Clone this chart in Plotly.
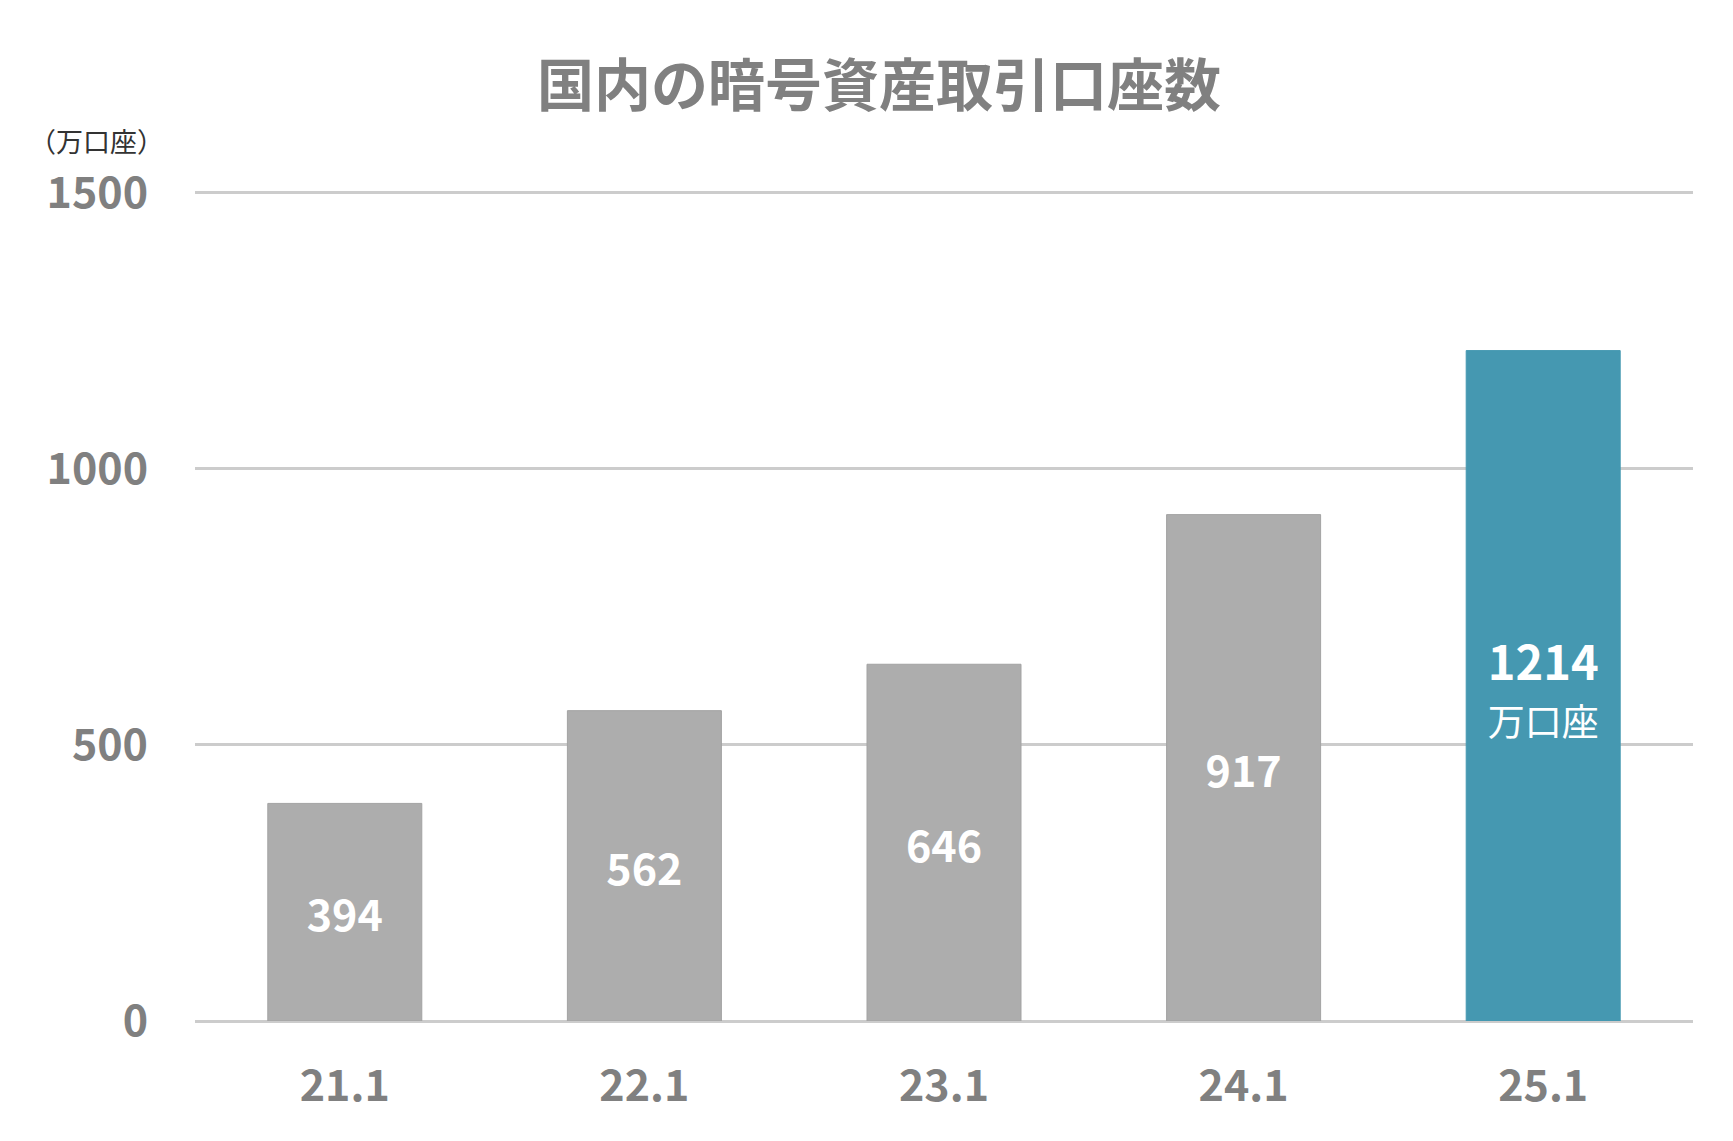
import plotly.graph_objects as go

categories = ["21.1", "22.1", "23.1", "24.1", "25.1"]
values = [394, 562, 646, 917, 1214]
bar_colors = ["#adadad", "#adadad", "#adadad", "#adadad", "#4598b1"]
line_colors = ["#a3a3a3", "#a3a3a3", "#a3a3a3", "#a3a3a3", "#4598b1"]
unit = "万口座"
y_ticks = [0, 500, 1000, 1500]

texts = [f"<b>{v}</b>" for v in values]
texts[-1] = f"<b><span style='font-size:47px'>{values[-1]}</span></b><br><span style='font-size:37px'>{unit}</span>"

FONT = "Noto Sans CJK JP"
W, H = 1717, 1125
L, R, T, B = 187, 32, 183, 112
plot_w = W - L - R
plot_h = H - T - B

fig = go.Figure(go.Bar(
    x=categories,
    y=values,
    marker=dict(color=bar_colors, line=dict(color=line_colors, width=1)),
    text=texts,
    textposition="inside",
    insidetextanchor="middle",
    textangle=0,
    constraintext="none",
    insidetextfont=dict(family=FONT, size=43, color="white"),
    hoverinfo="skip",
))

fig.update_layout(
    width=W, height=H,
    paper_bgcolor="white", plot_bgcolor="white",
    margin=dict(l=L, r=R, t=T, b=B, autoexpand=False),
    bargap=0.486,
    showlegend=False,
    title=dict(
        text="<b>国内の暗号資産取引口座数</b>",
        font=dict(family=FONT, size=57, color="#808080"),
        x=871/W, xref="container", xanchor="center",
        y=1-78/H, yref="container", yanchor="middle",
    ),
    xaxis=dict(
        showgrid=False, showline=False, zeroline=False,
        tickfont=dict(family=FONT, size=43, color="#808080", weight="bold"),
        ticklabelstandoff=36, ticks="",
    ),
    yaxis=dict(
        range=[0, 1503], tickvals=y_ticks,
        showgrid=True, gridcolor="#cccccc", gridwidth=2.5,
        zeroline=True, zerolinecolor="#cccccc", zerolinewidth=2.5,
        showline=False,
        tickfont=dict(family=FONT, size=43, color="#808080", weight="bold"),
        ticklabelstandoff=46, ticks="",
    ),
    annotations=[dict(
        text="（万口座）", xref="paper", yref="paper",
        x=-(L-88)/plot_w, y=1+(T-132)/plot_h,
        xanchor="center", yanchor="middle", showarrow=False,
        font=dict(family=FONT, size=27, color="#333333"),
    )],
)

fig.write_html("out.html")
